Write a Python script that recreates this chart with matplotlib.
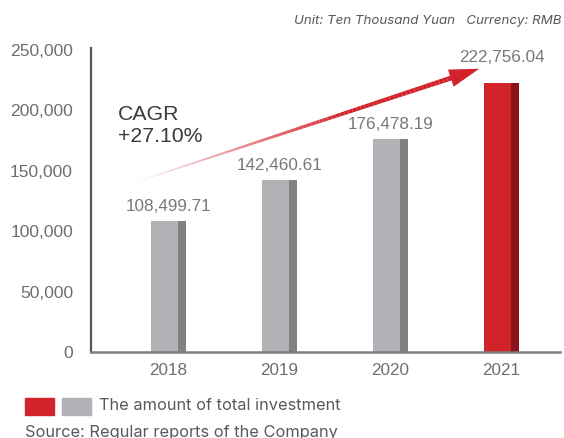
import numpy as np
import matplotlib
matplotlib.use("Agg")
import matplotlib.pyplot as plt
from matplotlib.collections import LineCollection
from matplotlib.patches import FancyArrowPatch, Rectangle

years = ["2018", "2019", "2020", "2021"]
investment = [108499.71, 142460.61, 176478.19, 222756.04]
value_labels = ["108,499.71", "142,460.61", "176,478.19", "222,756.04"]
yticks = [0, 50000, 100000, 150000, 200000, 250000]
cagr_lines = ["CAGR", "+27.10%"]

light_gray = "#b1b2b6"
dark_gray = "#808184"
red = "#d2232a"
dark_red = "#8b151b"
num_font = "Liberation Sans"
text_font = "Inter"

fig = plt.figure(figsize=(5.64, 4.38), dpi=100)
ax = fig.add_axes([91 / 564, 86 / 438, 469 / 564, 304 / 438])

x = np.arange(len(years))
front_w = 0.243
side_w = 0.072
total_w = front_w + side_w
for i, v in enumerate(investment):
    last = i == len(years) - 1
    face, side = (red, dark_red) if last else (light_gray, dark_gray)
    left = x[i] - total_w / 2
    ax.bar(left, v, width=front_w, align="edge", color=face, linewidth=0)
    ax.bar(left + front_w, v, width=side_w, align="edge", color=side, linewidth=0)
    # the last label sits above the arrow head
    ax.text(x[i], v + (14500 if last else 5500), value_labels[i], ha="center", va="bottom",
            fontsize=12.3, color="#77787b", family=num_font)

ax.set_xlim(-0.698, 3.527)
ax.set_ylim(0, 251656)
ax.set_yticks(yticks)
ax.set_yticklabels([f"{t:,}" for t in yticks], family=num_font, fontsize=12.6, color="#6d6e71")
ax.set_xticks(x)
ax.set_xticklabels(years, family=num_font, fontsize=12.3, color="#6d6e71")
ax.tick_params(axis="both", length=0)
ax.tick_params(axis="y", pad=13)
ax.tick_params(axis="x", pad=8)

for s in ["top", "right"]:
    ax.spines[s].set_visible(False)
ax.spines["left"].set_color("#58595b")
ax.spines["left"].set_linewidth(1.6)
ax.spines["bottom"].set_color("#7d7e80")
ax.spines["bottom"].set_linewidth(1.8)

# growth arrow: fades in from the tail, thickens toward the head
tail = np.array([-0.35, 139000])
tip = np.array([2.80, 234500])
head_start = tip - (tip - tail) * 0.065
n = 80
t = np.linspace(0, 1, n + 1)
pts = tail + (head_start - tail) * t[:, None] * 1.01
segs = np.stack([pts[:-1], pts[1:]], axis=1)
cols = np.zeros((n, 4))
cols[:, :3] = matplotlib.colors.to_rgb(red)
cols[:, 3] = np.clip(t[1:] * 1.5, 0, 1)
lc = LineCollection(segs, colors=cols, linewidths=0.3 + 3.3 * t[1:] ** 0.8, capstyle="butt")
ax.add_collection(lc)
head = FancyArrowPatch(tuple(head_start), tuple(tip),
                       arrowstyle="-|>,head_length=0.9,head_width=0.27",
                       mutation_scale=24, color=red, linewidth=0, shrinkA=0, shrinkB=0)
ax.add_patch(head)

ax.text(-0.455, 196500, cagr_lines[0], ha="left", va="center", fontsize=15.3,
        color="#3a3a3c", family=num_font)
ax.text(-0.455, 178300, cagr_lines[1], ha="left", va="center", fontsize=15.3,
        color="#3a3a3c", family=num_font)

fig.text(562 / 564, 1 - 21 / 438, "Unit: Ten Thousand Yuan   Currency: RMB",
         ha="right", va="center", fontsize=9.6, style="italic", color="#58595b",
         family=text_font)

# legend row
fig.patches.append(Rectangle((25 / 564, 1 - 415 / 438), 29 / 564, 17 / 438,
                             transform=fig.transFigure, color=red))
fig.patches.append(Rectangle((62 / 564, 1 - 415 / 438), 29 / 564, 17 / 438,
                             transform=fig.transFigure, color=light_gray))
fig.text(99 / 564, 1 - 406 / 438, "The amount of total investment", ha="left",
         va="center", fontsize=11.8, color="#58595b", family=text_font)
fig.text(25 / 564, 1 - 432 / 438, "Source: Regular reports of the Company", ha="left",
         va="center", fontsize=11.8, color="#58595b", family=text_font)

fig.savefig("out.png", dpi=100)
